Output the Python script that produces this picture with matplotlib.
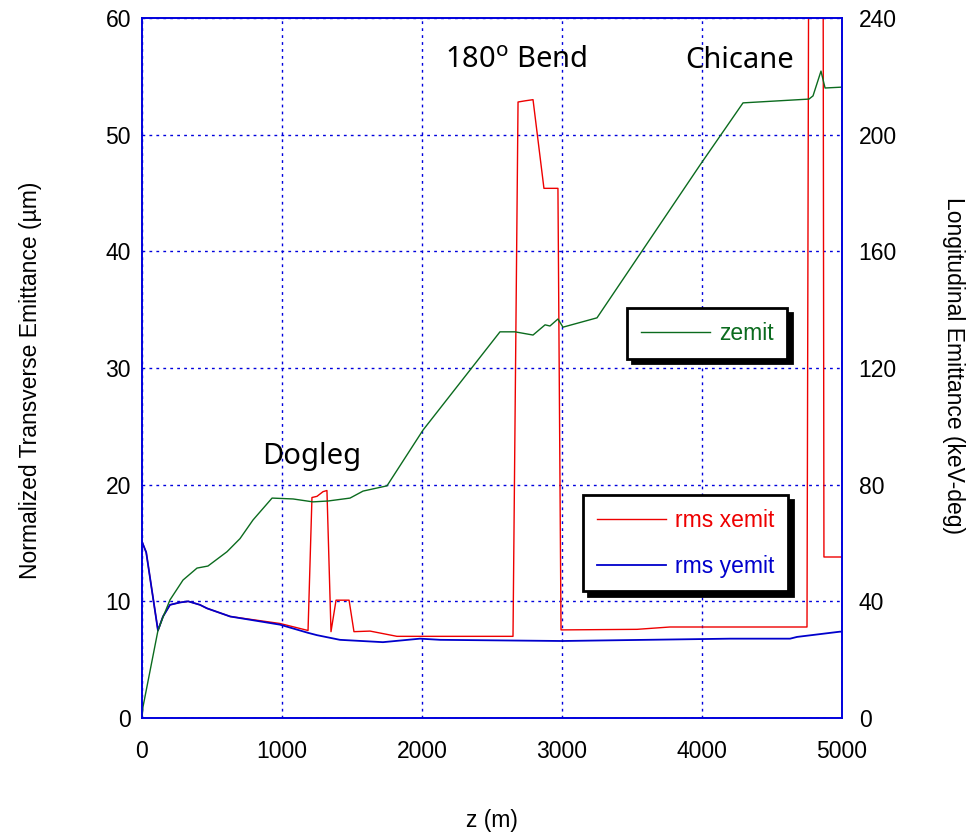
import numpy as np
import matplotlib.pyplot as plt

# beam line position (m)
z_x = [0, 10, 30, 114, 150, 200, 270, 330, 414, 464, 630, 986, 1186, 1214, 1250,
       1293, 1321, 1350, 1386, 1479, 1514, 1629, 1821, 2650, 2686, 2736, 2793,
       2871, 2971, 2993, 3536, 3771, 4750, 4764, 4864, 4871, 5000]
xemit = [15.1, 14.8, 14.2, 7.5, 8.7, 9.7, 9.9, 10.0, 9.7, 9.4, 8.7, 8.1, 7.5, 18.9, 19.0,
         19.4, 19.5, 7.4, 10.1, 10.1, 7.4, 7.45, 7.0, 7.0, 52.8, 52.9, 53.0,
         45.4, 45.4, 7.55, 7.6, 7.8, 7.8, 75.0, 75.0, 13.8, 13.8]

z_y = [0, 10, 30, 114, 150, 200, 270, 330, 414, 464, 630, 986, 1186, 1250, 1414,
       1721, 1986, 2130, 3000, 4200, 4629, 4679, 4986, 5000]
yemit = [15.1, 14.8, 14.2, 7.5, 8.7, 9.7, 9.9, 10.0, 9.7, 9.4, 8.7, 8.0, 7.3, 7.1, 6.7,
         6.5, 6.8, 6.7, 6.6, 6.8, 6.8, 6.95, 7.4, 7.4]

z_z = [0, 7, 114, 150, 200, 293, 393, 471, 607, 700, 793, 929, 1079, 1221, 1329,
       1486, 1579, 1750, 2007, 2557, 2664, 2793, 2879, 2914, 2971, 3007, 3250,
       3986, 4293, 4764, 4793, 4850, 4879, 5000]
zemit = [0, 3.8, 30, 34.6, 40.5, 47.3, 51.4, 52.1, 57, 61.5, 67.9, 75.4, 75.1, 74.1, 74.4,
         75.4, 77.8, 79.6, 98.7, 132.4, 132.4, 131.3, 134.8, 134.4, 136.8, 134.0, 137.2,
         189.6, 210.9, 212.2, 213.3, 221.8, 216, 216.3]

xticks = [0, 1000, 2000, 3000, 4000, 5000]
yticks_left = [0, 10, 20, 30, 40, 50, 60]
yticks_right = [0, 40, 80, 120, 160, 200, 240]

plt.rcParams['font.family'] = ['Liberation Sans', 'DejaVu Sans']

fig = plt.figure(figsize=(9.76, 8.35), dpi=100)
ax = fig.add_axes([142/976, 1 - 718/835, 700/976, 700/835])
ax2 = ax.twinx()

grid_kw = dict(color='#0000dd', linestyle=(0, (2, 3)), linewidth=1.0)

# transverse emittances
ax.plot(z_x, xemit, color='#ee0000', lw=1.0, label='rms xemit')
ax.plot(z_y, yemit, color='#0000cc', lw=1.3, label='rms yemit')
ax.set_xlim(0, 5000)
ax.set_ylim(0, 60)
ax.set_xticks(xticks)
ax.set_yticks(yticks_left)
ax.grid(True, **grid_kw)
ax.set_axisbelow(True)
ax.tick_params(axis='x', length=0, pad=16, labelsize=16.5)
ax.tick_params(axis='y', length=0, pad=8, labelsize=16.5)
ax.set_xlabel('z (m)', fontsize=16.5, labelpad=33)
ax.set_ylabel('Normalized Transverse Emittance (\u00b5m)', fontsize=16.5, va='center')
ax.yaxis.set_label_coords(-0.16, 0.483)

# longitudinal emittance
ax2.plot(z_z, zemit, color='#0b6b1e', lw=1.0, label='zemit')
ax2.set_ylim(0, 240)
ax2.set_yticks(yticks_right)
ax2.tick_params(axis='y', length=0, pad=12, labelsize=16.5)
ax2.set_ylabel('Longitudinal Emittance (keV-deg)', fontsize=16.5, rotation=270, va='center')
ax2.yaxis.set_label_coords(1.159, 0.504)

for a in (ax, ax2):
    for s in a.spines.values():
        s.set_color('#0000dd')
        s.set_linewidth(1.2)

# section labels
txt_kw = dict(fontsize=21, family='Noto Sans', ha='center', va='center')
ax.text(1214, 22.4, 'Dogleg', **txt_kw)
ax.text(2671, 56.4, '180$^{\\mathrm{o}}$ Bend', **txt_kw)
ax.text(4271, 56.4, 'Chicane', **txt_kw)

shadow = {'ox': 3.5, 'oy': -3.5, 'color': 'black', 'alpha': 1}
leg_kw = dict(fontsize=16.5, frameon=True, fancybox=False, edgecolor='black',
              framealpha=1, handlelength=3.0, handletextpad=0.4, borderpad=0.6,
              borderaxespad=0, bbox_transform=fig.transFigure, loc='upper left')

leg1 = ax.legend(bbox_to_anchor=(583/976, 1 - 495/835), labelspacing=1.0,
                 labelcolor='linecolor', **leg_kw)
leg1.get_frame().set_linewidth(2)
leg1.shadow = True
leg1._shadow_props = shadow

leg2 = ax2.legend(bbox_to_anchor=(627/976, 1 - 308/835), labelcolor='linecolor', **leg_kw)
leg2.get_frame().set_linewidth(2)
leg2.shadow = True
leg2._shadow_props = shadow

fig.savefig('out.png', dpi=100)
